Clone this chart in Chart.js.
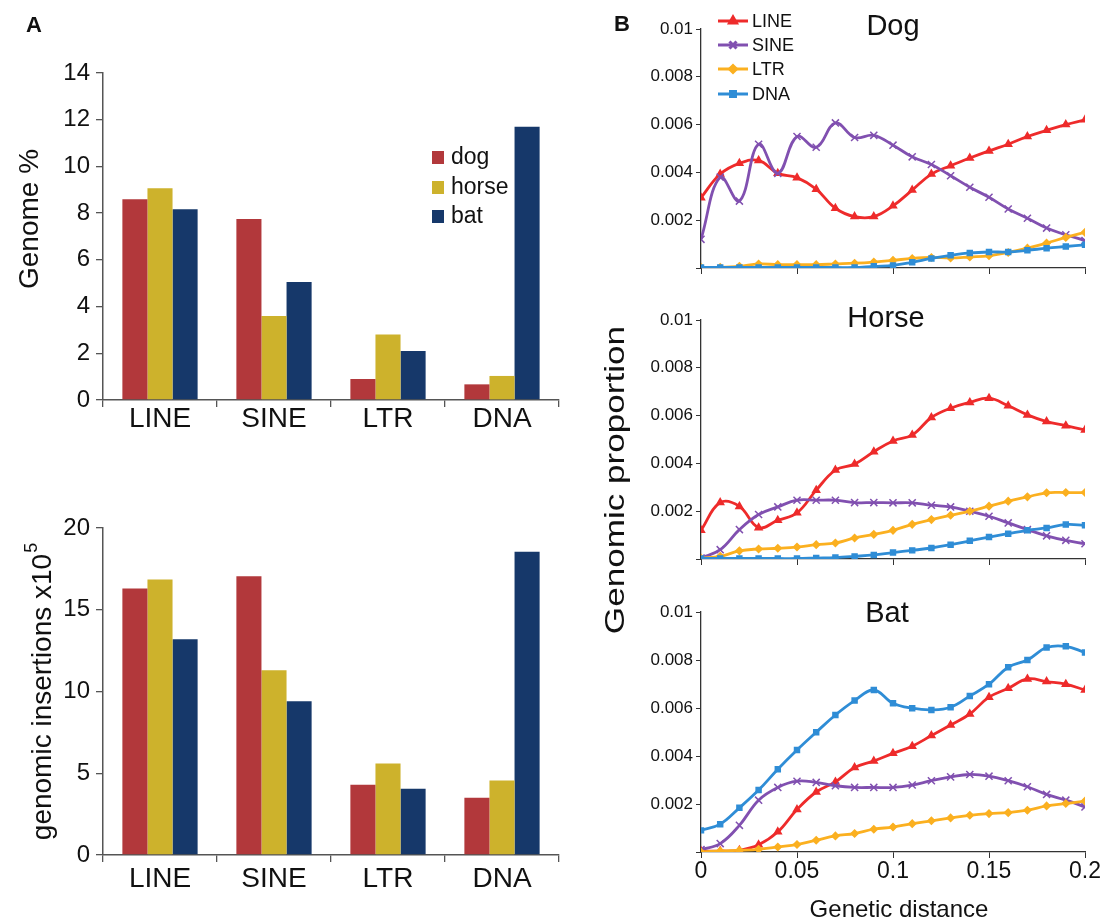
<!DOCTYPE html>
<html>
<head>
<meta charset="utf-8">
<script src="https://cdn.jsdelivr.net/npm/chart.js@4.4.1/dist/chart.umd.min.js"></script>
<style>
body { margin: 0; background: #fff; }
#wrap { position: relative; width: 1102px; height: 923px; }
#wrap canvas { position: absolute; left: 0; top: 0; }
</style>
</head>
<body>
<div id="wrap">
  <canvas id="genome" width="1102" height="923"></canvas>
  <canvas id="inserts" width="1102" height="923"></canvas>
  <canvas id="dog" width="1102" height="923"></canvas>
  <canvas id="horse" width="1102" height="923"></canvas>
  <canvas id="bat" width="1102" height="923"></canvas>
</div>
<script>
const FONT = "'Liberation Sans', Arial, Helvetica, sans-serif"
Chart.defaults.font.family = FONT
Chart.defaults.color = '#111'

// panel A
const categories = ['LINE', 'SINE', 'LTR', 'DNA']
const species = ['dog', 'horse', 'bat']
const genomeDog = [8.6, 7.75, 0.9, 0.67]
const genomeHorse = [9.07, 3.6, 2.8, 1.03]
const genomeBat = [8.17, 5.05, 2.1, 11.7]
const insertDog = [16.3, 17.05, 4.3, 3.5]
const insertHorse = [16.85, 11.3, 5.6, 4.55]
const insertBat = [13.2, 9.4, 4.05, 18.55]

// panel B
const repeatTypes = ['LINE', 'SINE', 'LTR', 'DNA']
const distance = [0, 0.01, 0.02, 0.03, 0.04, 0.05, 0.06, 0.07, 0.08, 0.09, 0.1,
    0.11, 0.12, 0.13, 0.14, 0.15, 0.16, 0.17, 0.18, 0.19, 0.2]

const dogLINE = [0.00294, 0.00393, 0.00438, 0.0045, 0.00396, 0.00378, 0.0033, 0.0025, 0.00215, 0.00215, 0.0026,
    0.00326, 0.00393, 0.00428, 0.0046, 0.0049, 0.00518, 0.0055, 0.00576, 0.006, 0.0062]
const dogSINE = [0.0012, 0.0038, 0.0028, 0.00518, 0.00396, 0.0055, 0.00505, 0.00607, 0.00546, 0.00555, 0.00514,
    0.00465, 0.00433, 0.00386, 0.00338, 0.00296, 0.00247, 0.00208, 0.00167, 0.00139, 0.00115]
const dogLTR = [0.00003, 0.00003, 0.00007, 0.00017, 0.00014, 0.00014, 0.00014, 0.00017, 0.0002, 0.00025, 0.00032,
    0.0004, 0.00044, 0.00042, 0.00046, 0.00051, 0.00065, 0.00083, 0.00104, 0.00128, 0.00149]
const dogDNA = [0.00002, 0.00002, 0.00002, 0.00002, 0.00002, 0.00002, 0.00002, 0.00002, 0.00002, 0.00007, 0.00011,
    0.00024, 0.0004, 0.00053, 0.00063, 0.00067, 0.00067, 0.00074, 0.00083, 0.0009, 0.00097]

const horseLINE = [0.0012, 0.00236, 0.0022, 0.00131, 0.00162, 0.00193, 0.00288, 0.00372, 0.00397, 0.00449, 0.00494,
    0.00519, 0.00592, 0.00631, 0.00655, 0.00673, 0.00641, 0.00603, 0.00575, 0.00558, 0.0054]
const horseSINE = [0.00004, 0.00039, 0.00123, 0.00186, 0.00218, 0.00246, 0.00246, 0.00246, 0.00236, 0.00236, 0.00235,
    0.00235, 0.00225, 0.00218, 0.002, 0.00179, 0.00151, 0.00123, 0.00097, 0.00078, 0.00064]
const horseLTR = [0.00004, 0.00011, 0.00034, 0.00042, 0.00045, 0.0005, 0.0006, 0.00067, 0.00088, 0.00103, 0.0012,
    0.00145, 0.00165, 0.00183, 0.002, 0.00221, 0.00242, 0.0026, 0.00277, 0.00278, 0.00278]
const horseDNA = [0.00002, 0.00002, 0.00002, 0.00002, 0.00002, 0.00002, 0.00004, 0.00006, 0.00011, 0.00017, 0.00027,
    0.00036, 0.00046, 0.0006, 0.00076, 0.00092, 0.00106, 0.0012, 0.0013, 0.00144, 0.00141]

const batLINE = [0.00004, 0.00004, 0.00007, 0.0003, 0.00084, 0.00177, 0.0025, 0.00292, 0.00352, 0.00379, 0.00411,
    0.00441, 0.00485, 0.00529, 0.00575, 0.00645, 0.00682, 0.00721, 0.0071, 0.00699, 0.00675]
const batSINE = [0.0001, 0.00035, 0.00111, 0.00216, 0.00269, 0.00295, 0.0029, 0.00276, 0.00269, 0.00269, 0.00269,
    0.00279, 0.00297, 0.00313, 0.00323, 0.00316, 0.00297, 0.00272, 0.0024, 0.00216, 0.00188]
const batLTR = [0, 0.00004, 0.00007, 0.00011, 0.00021, 0.00031, 0.00049, 0.00067, 0.00077, 0.00095, 0.00104,
    0.00118, 0.0013, 0.00142, 0.00153, 0.0016, 0.00164, 0.00174, 0.00192, 0.00202, 0.00212]
const batDNA = [0.0009, 0.00116, 0.00184, 0.00258, 0.00345, 0.00425, 0.00499, 0.00571, 0.00631, 0.00675, 0.0062,
    0.00599, 0.00592, 0.00603, 0.0065, 0.00699, 0.0077, 0.008, 0.00852, 0.00857, 0.00831]

const barColors = ['#b2383b', '#cdb22c', '#16386a']
const lineColors = ['#ee2b2b', '#8150b0', '#fbb020', '#2f8dd6']
const pointStyles = ['triangle', 'crossRot', 'rectRot', 'rect']
const pointSizes = [4, 5, 3.5, 3.5]

const W = 1102, H = 923

// draws free text (panel letters, titles, rotated axis titles)
function textPlugin(items, extra) {
    return {
        id: 'texts',
        afterDraw(chart) {
            const ctx = chart.ctx
            items.forEach(t => {
                ctx.save()
                ctx.translate(t.x, t.y)
                if (t.rotate) ctx.rotate(-Math.PI / 2)
                if (t.stretch) ctx.scale(t.stretch, 1)
                const font = (t.bold ? 'bold ' : '') + t.size + 'px ' + FONT
                ctx.font = font
                ctx.fillStyle = '#111'
                ctx.textBaseline = 'middle'
                if (t.sup) {
                    const w = ctx.measureText(t.text).width
                    ctx.font = Math.round(t.size * 0.65) + 'px ' + FONT
                    const ws = ctx.measureText(t.sup).width
                    const x0 = -(w + ws) / 2
                    ctx.textAlign = 'left'
                    ctx.fillText(t.sup, x0 + w + 1, -t.size * 0.38)
                    ctx.font = font
                    ctx.fillText(t.text, x0, 0)
                } else {
                    ctx.textAlign = t.align || 'center'
                    ctx.fillText(t.text, 0, 0)
                }
                ctx.restore()
            })
            if (extra) extra(chart)
        }
    }
}

function barLegend(chart) {
    const ctx = chart.ctx
    const rows = [157, 187, 216]
    ctx.save()
    ctx.font = '23px ' + FONT
    ctx.textBaseline = 'middle'
    ctx.textAlign = 'left'
    species.forEach((s, i) => {
        ctx.fillStyle = barColors[i]
        ctx.fillRect(432, rows[i] - 6, 12, 13)
        ctx.fillStyle = '#111'
        ctx.fillText(s, 451, rows[i] + 1)
    })
    ctx.restore()
}

function lineLegend(chart) {
    const ctx = chart.ctx
    const rows = [21, 45, 69, 94]
    ctx.save()
    ctx.font = '18px ' + FONT
    ctx.textBaseline = 'middle'
    ctx.textAlign = 'left'
    repeatTypes.forEach((r, i) => {
        ctx.strokeStyle = lineColors[i]
        ctx.fillStyle = lineColors[i]
        ctx.lineWidth = 3
        ctx.beginPath()
        ctx.moveTo(718, rows[i])
        ctx.lineTo(748, rows[i])
        ctx.stroke()
        Chart.helpers.drawPoint(ctx, {pointStyle: pointStyles[i], radius: pointSizes[i], borderWidth: 1.5}, 733, rows[i])
        ctx.fillStyle = '#111'
        ctx.fillText(r, 752, rows[i] + 1)
    })
    ctx.restore()
}

function barChart(id, series, yMax, yStep, top, bottom, labelPad, texts, extra) {
    return new Chart(document.getElementById(id), {
        type: 'bar',
        data: {
            labels: categories,
            datasets: series.map((d, i) => ({
                label: species[i],
                data: d,
                backgroundColor: barColors[i],
                categoryPercentage: 0.66,
                barPercentage: 1
            }))
        },
        options: {
            responsive: false,
            animation: false,
            events: [],
            layout: {padding: {left: 0, top: top, right: W - 559, bottom: H - bottom - 40}},
            plugins: {legend: {display: false}, tooltip: {enabled: false}},
            scales: {
                x: {
                    grid: {drawOnChartArea: false, color: '#555', tickLength: 7, lineWidth: 1.3},
                    border: {color: '#555', width: 1.5},
                    ticks: {font: {size: 28}, color: '#111', padding: labelPad},
                    afterFit: s => { s.height = 40 }
                },
                y: {
                    min: 0,
                    max: yMax,
                    grid: {drawOnChartArea: false, color: '#555', tickLength: 7, lineWidth: 1.3},
                    border: {color: '#555', width: 1.5},
                    ticks: {stepSize: yStep, font: {size: 24}, color: '#111', padding: 6},
                    afterFit: s => { s.width = 103 }
                }
            }
        },
        plugins: [textPlugin(texts, extra)]
    })
}

function lineChart(id, series, top, bottom, showX, texts, extra) {
    const axisH = showX ? 40 : 10
    return new Chart(document.getElementById(id), {
        type: 'line',
        data: {
            datasets: series.map((vals, i) => ({
                label: repeatTypes[i],
                data: distance.map((d, j) => ({x: d, y: vals[j]})),
                borderColor: lineColors[i],
                backgroundColor: lineColors[i],
                borderWidth: 2.8,
                tension: 0.4,
                pointStyle: pointStyles[i],
                pointRadius: pointSizes[i],
                pointBorderWidth: 1.5,
                order: 4 - i
            }))
        },
        options: {
            responsive: false,
            animation: false,
            events: [],
            layout: {padding: {left: 600, top: top, right: W - 1085, bottom: H - bottom - axisH}},
            plugins: {legend: {display: false}, tooltip: {enabled: false}},
            scales: {
                x: {
                    type: 'linear',
                    min: 0,
                    max: 0.2,
                    grid: {drawOnChartArea: false, color: '#333', tickLength: 6},
                    border: {color: '#333', width: 1.3},
                    ticks: {
                        stepSize: 0.05,
                        font: {size: 23},
                        color: showX ? '#111' : 'rgba(0,0,0,0)',
                        padding: 0,
                        callback: v => String(Math.round(v * 100) / 100)
                    },
                    afterFit: s => { s.height = axisH }
                },
                y: {
                    min: 0,
                    max: 0.01,
                    grid: {drawOnChartArea: false, color: '#333', tickLength: 5},
                    border: {color: '#333', width: 1.3},
                    ticks: {
                        stepSize: 0.002,
                        font: {size: 17},
                        color: '#111',
                        padding: 3,
                        callback: v => v === 0 ? '' : String(Math.round(v * 1000) / 1000)
                    },
                    afterFit: s => { s.width = 101 }
                }
            }
        },
        plugins: [textPlugin(texts, extra)]
    })
}

barChart('genome', [genomeDog, genomeHorse, genomeBat], 14, 2, 73, 400, -5, [
    {text: 'A', x: 34, y: 26, size: 22, bold: true},
    {text: 'Genome %', x: 30, y: 219, size: 28, rotate: true}
], barLegend)

barChart('inserts', [insertDog, insertHorse, insertBat], 20, 5, 528, 855, 0, [
    {text: 'genomic insertions x10', sup: '5', x: 43, y: 692, size: 28, rotate: true}
])

lineChart('dog', [dogLINE, dogSINE, dogLTR, dogDNA], 29, 268, false, [
    {text: 'B', x: 622, y: 25, size: 22, bold: true},
    {text: 'Dog', x: 893, y: 27, size: 29}
], lineLegend)

lineChart('horse', [horseLINE, horseSINE, horseLTR, horseDNA], 320, 559, false, [
    {text: 'Horse', x: 886, y: 319, size: 29},
    {text: 'Genomic proportion', x: 617, y: 480, size: 27, rotate: true, stretch: 1.3}
])

lineChart('bat', [batLINE, batSINE, batLTR, batDNA], 612, 852, true, [
    {text: 'Bat', x: 887, y: 614, size: 29},
    {text: 'Genetic distance', x: 899, y: 910, size: 24}
])
</script>
</body>
</html>
